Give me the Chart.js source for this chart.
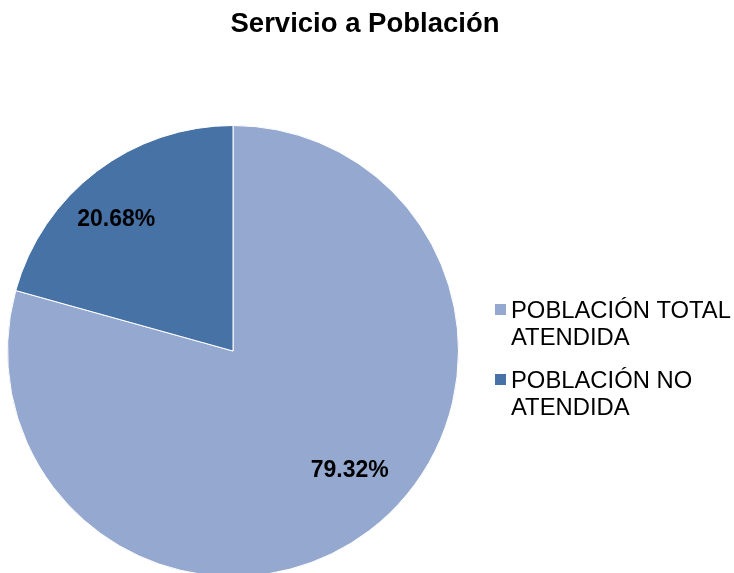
<!DOCTYPE html>
<html>
<head>
<meta charset="utf-8">
<script src="https://cdn.jsdelivr.net/npm/chart.js@4/dist/chart.umd.min.js"></script>
<style>
  body { margin: 0; overflow: hidden; background: #fff; }
</style>
</head>
<body>
<canvas id="pieChart" width="734" height="600"></canvas>
<script>
var chartTitle = "Servicio a Población";
var categories = [["POBLACIÓN TOTAL", "ATENDIDA"], ["POBLACIÓN NO", "ATENDIDA"]];
var values = [79.32, 20.68];
var colors = ["#95A9D0", "#4672A6"];

// title, percent labels and the legend are drawn here
var extras = {
  id: "extras",
  afterDraw: function (chart) {
    var c = chart.ctx;
    c.save();
    c.fillStyle = "#000";
    c.textAlign = "center";
    c.textBaseline = "alphabetic";
    c.font = "bold 27.5px 'Liberation Sans', Arial, sans-serif";
    c.fillText(chartTitle, 365, 32);

    var arcs = chart.getDatasetMeta(0).data;
    c.textBaseline = "middle";
    c.font = "bold 23px 'Liberation Sans', Arial, sans-serif";
    arcs.forEach(function (arc, i) {
      var mid = (arc.startAngle + arc.endAngle) / 2 - 0.1;
      var r = arc.outerRadius * 0.76;
      c.fillText(values[i].toFixed(2) + "%", arc.x + Math.cos(mid) * r, arc.y + Math.sin(mid) * r - 6);
    });

    c.textAlign = "left";
    c.textBaseline = "alphabetic";
    c.font = "23.8px 'Liberation Sans', Arial, sans-serif";
    categories.forEach(function (lines, i) {
      var top = 304 + i * 70;
      c.fillStyle = colors[i];
      c.fillRect(495, top, 11, 11);
      c.fillStyle = "#000";
      lines.forEach(function (t, j) {
        c.fillText(t, 511, top + 14 + j * 27);
      });
    });
    c.restore();
  }
};

var ctx = document.getElementById("pieChart");
var pieChart = new Chart(ctx, {
  type: "pie",
  data: {
    labels: categories.map(function (l) { return l.join(" "); }),
    datasets: [
      {
        data: values,
        backgroundColor: colors,
        borderColor: "#fff",
        borderWidth: 1,
      },
    ],
  },
  options: {
    responsive: false,
    animation: false,
    layout: {
      padding: { top: 125, left: 7, right: 275, bottom: 23 },
    },
    plugins: {
      legend: { display: false },
      tooltip: { enabled: false },
    },
  },
  plugins: [extras],
});
</script>
</body>
</html>
